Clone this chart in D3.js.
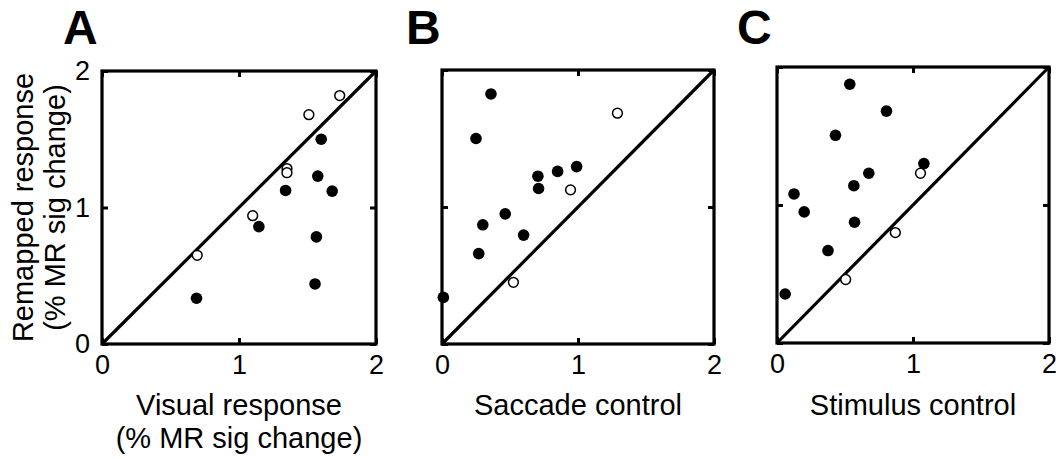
<!DOCTYPE html>
<html>
<head>
<meta charset="utf-8">
<script src="https://cdn.jsdelivr.net/npm/d3@7"></script>
<style>
  html, body { margin: 0; padding: 0; background: #fff; }
  svg { display: block; }
  text { font-family: "Liberation Sans", Arial, Helvetica, sans-serif; fill: #000; }
</style>
</head>
<body>
<svg id="chart" width="1056" height="459"></svg>
<script>
// ---- Data ----
const tickValues = [0, 1, 2];
const tickLabels = ["0", "1", "2"];
const panelLetters = ["A", "B", "C"];
const xLabels = [["Visual response", "(% MR sig change)"], ["Saccade control"], ["Stimulus control"]];
const yLabel = ["Remapped response", "(% MR sig change)"];

// Panel A: Visual response vs remapped response
const aFilledX = [1.60, 1.575, 1.34, 1.68, 1.145, 1.565, 1.555, 0.69];
const aFilledY = [1.50, 1.23, 1.125, 1.12, 0.86, 0.785, 0.44, 0.335];
const aOpenX = [1.735, 1.51, 1.35, 1.35, 1.10, 0.695];
const aOpenY = [1.82, 1.68, 1.285, 1.255, 0.94, 0.65];

// Panel B: Saccade control vs remapped response
const bFilledX = [0.36, 0.25, 0.705, 0.85, 0.99, 0.71, 0.465, 0.30, 0.60, 0.27, 0.01];
const bFilledY = [1.825, 1.50, 1.225, 1.26, 1.295, 1.135, 0.95, 0.87, 0.795, 0.66, 0.34];
const bOpenX = [1.29, 0.945, 0.525];
const bOpenY = [1.685, 1.125, 0.45];

// Panel C: Stimulus control vs remapped response
const cFilledX = [0.535, 0.805, 0.43, 1.08, 0.675, 0.565, 0.125, 0.20, 0.57, 0.375, 0.06];
const cFilledY = [1.875, 1.68, 1.505, 1.30, 1.23, 1.14, 1.08, 0.95, 0.875, 0.67, 0.355];
const cOpenX = [1.055, 0.87, 0.505];
const cOpenY = [1.23, 0.80, 0.46];

const panelsData = [
  { filledX: aFilledX, filledY: aFilledY, openX: aOpenX, openY: aOpenY },
  { filledX: bFilledX, filledY: bFilledY, openX: bOpenX, openY: bOpenY },
  { filledX: cFilledX, filledY: cFilledY, openX: cOpenX, openY: cOpenY }
];

// ---- Layout ----
const boxes = [
  { left: 102, right: 376, top: 71, bottom: 344, letterX: 63, showY: true },
  { left: 442, right: 714, top: 70, bottom: 344, letterX: 406, showY: false },
  { left: 777, right: 1049, top: 67, bottom: 343, letterX: 737, showY: false }
];

const svg = d3.select("#chart");

boxes.forEach((b, i) => {
  const d = panelsData[i];
  const x = d3.scaleLinear().domain([0, 2]).range([b.left, b.right]);
  const y = d3.scaleLinear().domain([0, 2]).range([b.bottom, b.top]);
  const g = svg.append("g");

  // inward ticks on all four sides
  const fmt = (v, k) => tickLabels[k];
  const axB = d3.axisBottom(x).tickValues(tickValues).tickSizeInner(-6).tickSizeOuter(0).tickPadding(11).tickFormat(fmt);
  const axT = d3.axisTop(x).tickValues(tickValues).tickSizeInner(-6).tickSizeOuter(0).tickFormat("");
  const axL = d3.axisLeft(y).tickValues(tickValues).tickSizeInner(-6).tickSizeOuter(0).tickPadding(12).tickFormat(b.showY ? fmt : "");
  const axR = d3.axisRight(y).tickValues(tickValues).tickSizeInner(-6).tickSizeOuter(0).tickFormat("");

  const styleAxis = sel => {
    sel.select(".domain").remove();
    sel.selectAll(".tick line").attr("stroke", "#000").attr("stroke-width", 3);
    sel.selectAll(".tick text").style("font-size", "27px").attr("fill", "#000")
      .style("font-family", '"Liberation Sans", Arial, sans-serif');
  };
  g.append("g").attr("transform", `translate(0,${b.bottom})`).call(axB).call(styleAxis);
  g.append("g").attr("transform", `translate(0,${b.top})`).call(axT).call(styleAxis);
  g.append("g").attr("transform", `translate(${b.left},0)`).call(axL).call(styleAxis);
  g.append("g").attr("transform", `translate(${b.right},0)`).call(axR).call(styleAxis);

  // box
  g.append("rect")
    .attr("x", x(0)).attr("y", y(2))
    .attr("width", x(2) - x(0)).attr("height", y(0) - y(2))
    .attr("fill", "none").attr("stroke", "#000").attr("stroke-width", 3.2);

  // unity line
  g.append("line")
    .attr("x1", x(0)).attr("y1", y(0)).attr("x2", x(2)).attr("y2", y(2))
    .attr("stroke", "#000").attr("stroke-width", 3.2);

  // filled points
  g.selectAll("circle.filled")
    .data(d.filledX.map((v, k) => [v, d.filledY[k]]))
    .join("circle").attr("class", "filled")
    .attr("cx", p => x(p[0])).attr("cy", p => y(p[1]))
    .attr("r", 5.8).attr("fill", "#000");

  // open points
  g.selectAll("circle.open")
    .data(d.openX.map((v, k) => [v, d.openY[k]]))
    .join("circle").attr("class", "open")
    .attr("cx", p => x(p[0])).attr("cy", p => y(p[1]))
    .attr("r", 4.9).attr("fill", "#fff").attr("stroke", "#000").attr("stroke-width", 1.5);

  // panel letter
  g.append("text").attr("x", b.letterX).attr("y", 44)
    .style("font-size", "48px").style("font-weight", "bold").text(panelLetters[i]);

  // x label
  const cx = (b.left + b.right) / 2;
  xLabels[i].forEach((t, k) => {
    g.append("text").attr("x", cx).attr("y", 415 + k * 33)
      .attr("text-anchor", "middle").style("font-size", "29px").text(t);
  });

  // y label
  if (b.showY) {
    const cy = (b.top + b.bottom) / 2;
    yLabel.forEach((t, k) => {
      g.append("text")
        .attr("transform", `translate(${33 + k * 32},${cy}) rotate(-90)`)
        .attr("text-anchor", "middle").style("font-size", "29px").text(t);
    });
  }
});
</script>
</body>
</html>
